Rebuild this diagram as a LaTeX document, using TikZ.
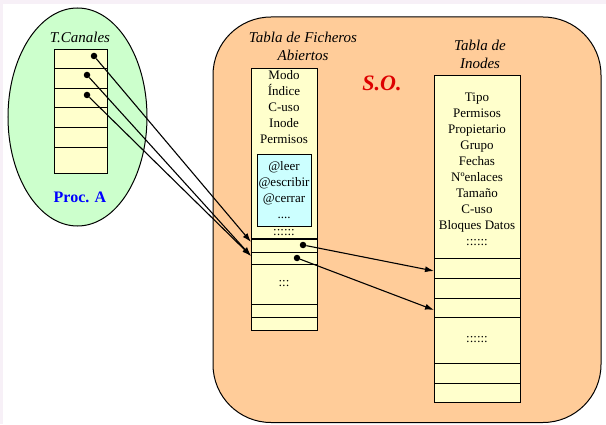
\documentclass[tikz,border=0pt]{standalone}
\usepackage{fontspec}
\setmainfont{Liberation Serif}
\usetikzlibrary{positioning}
\usetikzlibrary{arrows.meta}
\usetikzlibrary{shapes.geometric}
\definecolor{verde}{HTML}{CCFFCC}
\definecolor{naranja}{HTML}{FFCC99}
\definecolor{crema}{HTML}{FFFFCC}
\definecolor{celeste}{HTML}{CCFFFF}
\definecolor{lila}{HTML}{F7F0F7}
\definecolor{rojo}{HTML}{DD0000}
\tikzset{
	x=1pt, y=1pt,
	every node/.style={align=center, font=\fontsize{13}{16}\selectfont},
	celda/.style={draw, fill=crema, line width=0.9pt, inner sep=0pt, outer sep=0pt},
	canal/.style={celda, minimum width=53pt, minimum height=19.6pt},
	fichero/.style={celda, minimum width=66pt},
	inodo/.style={celda, minimum width=86pt},
	titulo/.style={font=\itshape\fontsize{15}{18}\selectfont},
	point/.style={circle, fill, inner sep=0pt, minimum size=6.5pt, node contents={}},
	puntero/.style={-{Latex[length=9pt,width=6pt]}, line width=1.1pt},
}

\begin{document}
\begin{tikzpicture}
	% fondo
	\fill[lila] (0,0) rectangle (606,424);
	\fill[white] (3,0) rectangle (606,420);
	\useasboundingbox (0,0) rectangle (606,424);

	% Proceso A
	\node (proc) [ellipse, draw, fill=verde, line width=1pt, minimum width=139pt, minimum height=218pt] at (77.5,307) {};
	\node (tcan) [titulo] at (80,387) {T.Canales};
	\node (c1) [canal, anchor=north west] at (54,375) {};
	\node (c2) [canal, below=0pt of c1] {};
	\node (c3) [canal, below=0pt of c2] {};
	\node (c4) [canal, below=0pt of c3] {};
	\node (c5) [canal, below=0pt of c4] {};
	\node (c6) [canal, below=0pt of c5, minimum height=26pt] {};
	\node (proca) [text=blue, font=\bfseries\fontsize{16}{19}\selectfont] at (80,227) {Proc. A};

	% S.O.
	\draw[fill=naranja, line width=1pt, rounded corners=58pt] (213,1.5) rectangle (601,407);
	\node (so) [text=rojo, font=\bfseries\itshape\fontsize{22}{26}\selectfont] at (382,341) {S.O.};

	% Tabla de ficheros abiertos
	\node (tfa) [titulo] at (303,378) {Tabla de Ficheros\\Abiertos};
	\node (ft0) [fichero, minimum height=171pt, anchor=north west] at (251,356) {};
	\node (campos) at (284,317) {Modo\\Índice\\C-uso\\Inode\\Permisos};
	\node (ops) [draw, fill=celeste, line width=0.9pt, minimum width=54pt, minimum height=72pt, inner sep=0pt] at (284,234) {@leer\\@escribir\\@cerrar\\....};
	\node (fmas) at (284,191) {::::::};
	\node (ft1) [fichero, below=0pt of ft0, minimum height=13pt] {};
	\node (ft2) [fichero, below=0pt of ft1, minimum height=12pt] {};
	\node (ft3) [fichero, below=0pt of ft2, minimum height=40pt] {:::};
	\node (ft4) [fichero, below=0pt of ft3, minimum height=13pt] {};
	\node (ft5) [fichero, below=0pt of ft4, minimum height=13pt] {};
	\draw[line width=1.8pt] (ft1.north west) -- (ft1.north east);

	% Tabla de inodes
	\node (tin) [titulo] at (480,370) {Tabla de\\Inodes};
	\node (in0) [inodo, minimum height=183pt, anchor=north west] at (434,349) {};
	\node (datos) at (477,255) {Tipo\\Permisos\\Propietario\\Grupo\\Fechas\\Nºenlaces\\Tamaño\\C-uso\\Bloques Datos\\::::::};
	\node (in1) [inodo, below=0pt of in0, minimum height=20pt] {};
	\node (in2) [inodo, below=0pt of in1, minimum height=20pt] {};
	\node (in3) [inodo, below=0pt of in2, minimum height=19pt] {};
	\node (in4) [inodo, below=0pt of in3, minimum height=46pt] {::::::};
	\node (in5) [inodo, below=0pt of in4, minimum height=20pt] {};
	\node (in6) [inodo, below=0pt of in5, minimum height=19pt] {};

	% punteros
	\node (a1) at (94,368) [point];
	\node (a2) at (87,349) [point];
	\node (a3) at (87,329) [point];
	\node (b1) at (303,179) [point];
	\node (b2) at (297,166) [point];

	\draw[puntero] (a1) -- ([yshift=3.5pt]ft1.west);
	\draw[puntero] (a2) -- ([yshift=2pt]ft2.west);
	\draw[puntero] (a3) -- ([yshift=2pt]ft2.west);
	\draw[puntero] (b1) -- ([yshift=-3pt]in1.west);
	\draw[puntero] (b2) -- ([yshift=-2.5pt]in3.west);
\end{tikzpicture}
\end{document}
